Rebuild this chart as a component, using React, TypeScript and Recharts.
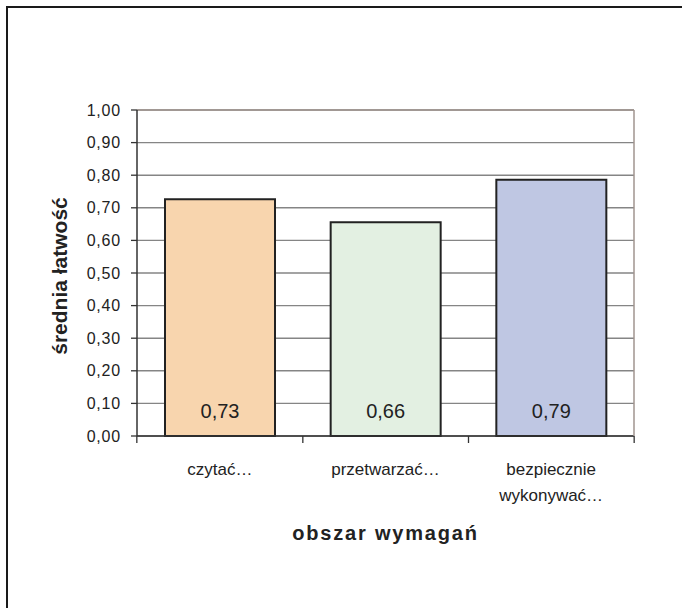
import { Bar, BarChart, CartesianGrid, LabelList, ReferenceLine, XAxis, YAxis } from "recharts";

const categories = ["czytać…", "przetwarzać…", "bezpiecznie\nwykonywać…"];
const values = [0.726, 0.656, 0.786];
const barColors = ["#F8D5AE", "#E3F0E2", "#BFC7E3"];
const yTicks = [0, 0.1, 0.2, 0.3, 0.4, 0.5, 0.6, 0.7, 0.8, 0.9, 1.0];

const data = categories.map((name, i) => ({ name, value: values[i], fill: barColors[i] }));

const FONT = '"Liberation Sans", Arial, sans-serif';
const W = 682;
const H = 608;
const MARGIN = { top: 110, right: 47, bottom: 72, left: 0 };
const Y_AXIS_W = 137;
const X_AXIS_H = 100;
const halfBand = (W - MARGIN.left - MARGIN.right - Y_AXIS_W) / categories.length / 2;

const fmt = (v: number) => v.toFixed(2).replace(".", ",");

function CategoryTick(props: any) {
  const { x, y, payload, index } = props;
  const lines = String(payload.value).split("\n");
  return (
    <g>
      {index === 0 && <line x1={x - halfBand} x2={x - halfBand} y1={y - 8} y2={y - 1} stroke="#333" strokeWidth={1.3} />}
      <line x1={x + halfBand} x2={x + halfBand} y1={y - 8} y2={y - 1} stroke="#333" strokeWidth={1.3} />
      <text x={x} y={y + 31} textAnchor="middle" fontFamily={FONT} fontSize={17} fill="#222">
        {lines.map((l, i) => (
          <tspan key={i} x={x} dy={i === 0 ? 0 : 26}>
            {l}
          </tspan>
        ))}
      </text>
    </g>
  );
}

export default function App() {
  return (
    <div style={{ position: "absolute", left: 0, top: 0, width: W, height: H, overflow: "hidden", background: "#fff" }}>
      <div
        style={{
          position: "absolute",
          left: 6,
          top: 6,
          width: W,
          height: H,
          borderTop: "2px solid #1a1a1a",
          borderLeft: "2px solid #1a1a1a",
        }}
      />
      <div style={{ position: "absolute", left: 0, top: 0 }}>
        <BarChart width={W} height={H} data={data} margin={MARGIN}>
          <CartesianGrid yAxisId="left" horizontal vertical={false} stroke="#858585" strokeWidth={1.4} />
          <XAxis
            dataKey="name"
            height={X_AXIS_H}
            tickLine={false}
            axisLine={{ stroke: "#333", strokeWidth: 1.5 }}
            tick={<CategoryTick />}
            interval={0}
            label={{
              value: "obszar wymagań",
              position: "insideBottom",
              offset: 0,
              content: ({ viewBox }: any) => (
                <text
                  x={viewBox.x + viewBox.width / 2}
                  y={viewBox.y + 104}
                  textAnchor="middle"
                  fontFamily={FONT}
                  fontSize={20}
                  fontWeight="bold"
                  letterSpacing={1.8}
                  fill="#222"
                >
                  obszar wymagań
                </text>
              ),
            }}
          />
          <YAxis
            yAxisId="left"
            width={Y_AXIS_W}
            domain={[0, 1]}
            ticks={yTicks}
            interval={0}
            tickFormatter={fmt}
            tickSize={6}
            tickMargin={10}
            tickLine={{ stroke: "#333", strokeWidth: 1.3 }}
            axisLine={{ stroke: "#333", strokeWidth: 1.5 }}
            tick={{ fontFamily: FONT, fontSize: 16, fill: "#222", letterSpacing: 0.8 }}
            label={{
              value: "średnia łatwość",
              content: ({ viewBox }: any) => (
                <text
                  transform={`translate(67, ${viewBox.y + viewBox.height / 2 + 3}) rotate(-90)`}
                  textAnchor="middle"
                  fontFamily={FONT}
                  fontSize={21}
                  fontWeight="bold"
                  fill="#222"
                >
                  średnia łatwość
                </text>
              ),
            }}
          />
          <YAxis
            yAxisId="right"
            orientation="right"
            width={1}
            domain={[0, 1]}
            tick={false}
            tickLine={false}
            axisLine={{ stroke: "#A0948F", strokeWidth: 1.5 }}
          />
          <ReferenceLine yAxisId="left" y={1} stroke="#A0948F" strokeWidth={1.5} />
          <Bar yAxisId="left" dataKey="value" barSize={110} stroke="#222" strokeWidth={2} isAnimationActive={false}>
            <LabelList
              dataKey="value"
              position="insideBottom"
              offset={18}
              formatter={(v: any) => fmt(Number(v))}
              style={{ fontFamily: FONT, fontSize: 20, fill: "#222" }}
            />
          </Bar>
        </BarChart>
      </div>
    </div>
  );
}
